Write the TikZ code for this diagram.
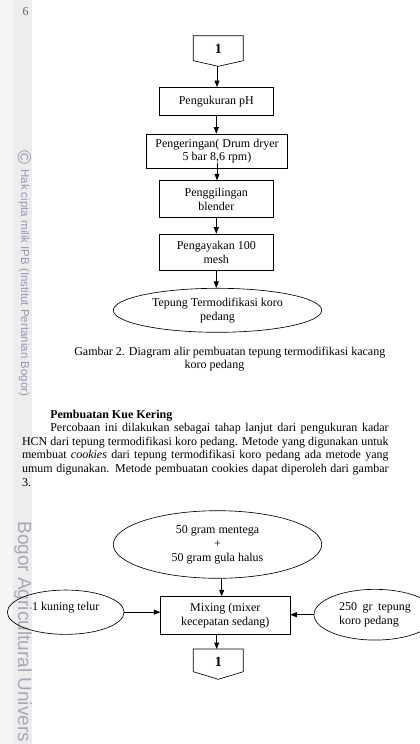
\documentclass[tikz,border=0pt]{standalone}
\usepackage{fontspec}
\setmainfont{Liberation Serif}
\newfontfamily\wmfont{Liberation Sans}
\usetikzlibrary{shapes.geometric,arrows.meta,calc}
\definecolor{bandA}{HTML}{F5F5F5}
\definecolor{bandB}{HTML}{EDEDED}
\definecolor{wmA}{HTML}{9898B4}
\definecolor{wmB}{HTML}{A8A8B8}
\definecolor{pagenum}{HTML}{666666}
\begin{document}
\begin{tikzpicture}[x=1pt,y=-1pt,
  font=\fontsize{12}{13.8}\selectfont,
  line width=0.65pt,
  arr/.style={-{Triangle[length=6.5pt,width=5pt]}},
  procbox/.style={draw,rectangle,inner sep=0pt,align=center},
  oval/.style={draw,ellipse,inner sep=0pt,align=center},
  txt/.style={anchor=base west,inner sep=0pt},
  conn/.style={font=\fontsize{14}{14}\selectfont\bfseries,inner sep=0pt}
]
\useasboundingbox (0,0) rectangle (420,744);
\clip (0,0) rectangle (420,744);
\fill[white] (0,0) rectangle (420,744);
\fill[bandA] (0,0) rectangle (32,744);
\fill[bandB] (13,0) rectangle (32,744);

% watermarks
\node[text=wmA,font=\wmfont\fontsize{19}{19}\selectfont,rotate=-90,inner sep=0pt] (copy) at (24.5,157.5) {©};
\node[txt,rotate=-90,text=wmA,font=\wmfont\fontsize{11.5}{12}\selectfont] (wm1) at (21,169) {Hak cipta milik IPB (Institut Pertanian Bogor)};
\node[txt,rotate=-90,text=wmB,font=\wmfont\fontsize{19}{20}\selectfont] (wm2) at (18,521) {Bogor Agricultural Univers};
\node[text=pagenum,anchor=base,inner sep=0pt] (pg) at (25.5,15) {6};

% first diagram
\draw (193.3,35.7) -- (243.3,35.7) -- (243.3,60.7) -- (218.3,66.3) -- (193.3,60.7) -- cycle;
\node[conn] (c1) at (218.3,48.5) {1};
\coordinate (c1tip) at (217,66.3);

\node[procbox,minimum width=114pt,minimum height=27.7pt] (b1) at (216.3,101.2) {Pengukuran pH};
\node[procbox,minimum width=140.6pt,minimum height=34.3pt] (b2) at (217,151.2) {Pengeringan( Drum dryer\\5 bar 8,6 rpm)};
\node[procbox,minimum width=114pt,minimum height=36.6pt] (b3) at (216.3,199) {Penggilingan\\blender};
\node[procbox,minimum width=114pt,minimum height=36pt] (b4) at (216.3,252) {Pengayakan 100\\mesh};
\node[oval,minimum width=208.4pt,minimum height=44pt] (e1) at (217.5,310.3) {Tepung Termodifikasi koro\\pedang};

\draw[arr] (c1tip) -- (c1tip |- b1.north);
\draw[arr] (b1.south) -- (b1.south |- b2.north);
\draw[arr] ([yshift=6pt]b2.south) -- (b2.south |- b3.north);
\draw[arr] (b3.south) -- (b3.south |- b4.north);
\draw[arr] (b4.south) -- (b4.south |- e1.north);

% caption and text
\node[txt] (cap1) at (74,355.2) {Gambar 2. Diagram alir pembuatan tepung termodifikasi kacang};
\node[txt] (cap2) at (184.3,368.5) {koro pedang};
\node[txt,font=\fontsize{12}{13.8}\selectfont\bfseries] (hd) at (50,418.5) {Pembuatan Kue Kering};
\node[txt] (p1) at (50,431.2) {\makebox[338.3pt][s]{Percobaan ini dilakukan sebagai tahap lanjut dari pengukuran kadar}};
\node[txt] (p2) at (21.7,445) {\makebox[366.6pt][s]{HCN dari tepung termodifikasi koro pedang. Metode yang digunakan untuk}};
\node[txt] (p3) at (21.7,458.8) {\makebox[366.6pt][s]{membuat \textit{cookies} dari tepung termodifikasi koro pedang ada metode yang}};
\node[txt] (p4) at (21.7,472.6) {\makebox[366.6pt][s]{umum digunakan. Metode pembuatan cookies dapat diperoleh dari gambar}};
\node[txt] (p5) at (21.7,486.4) {3.};

% second diagram
\node[oval,minimum width=208.4pt,minimum height=67.6pt] (e2) at (217.5,544.5) {50 gram mentega\\+\\50 gram gula halus};
\node[procbox,minimum width=129.3pt,minimum height=37.3pt] (mix) at (225.3,615.3) {Mixing (mixer\\kecepatan sedang)};
\node[oval,minimum width=116.7pt,minimum height=44.3pt,text depth=11pt] (egg) at (65.7,612.2) {1 kuning telur};
\node[oval,minimum width=122pt,minimum height=50.7pt,align=left] (flour) at (375,614.7) {\makebox[71.7pt][s]{250 gr tepung}\\koro pedang};

\draw[arr] ([xshift=4.2pt]e2.south) -- ([xshift=4.2pt]e2.south |- mix.north);
\draw[arr] (egg.east) -- (egg.east -| mix.west);
\draw[arr] (flour.west) -- (flour.west -| mix.east);
\coordinate (c2top) at (216.7,649);
\draw[arr] (c2top |- mix.south) -- (c2top);

\draw (193.3,649) -- (243.3,649) -- (243.3,671.7) -- (218.3,679.3) -- (193.3,671.7) -- cycle;
\node[conn] (c2) at (218.3,661.7) {1};
\end{tikzpicture}
\end{document}
